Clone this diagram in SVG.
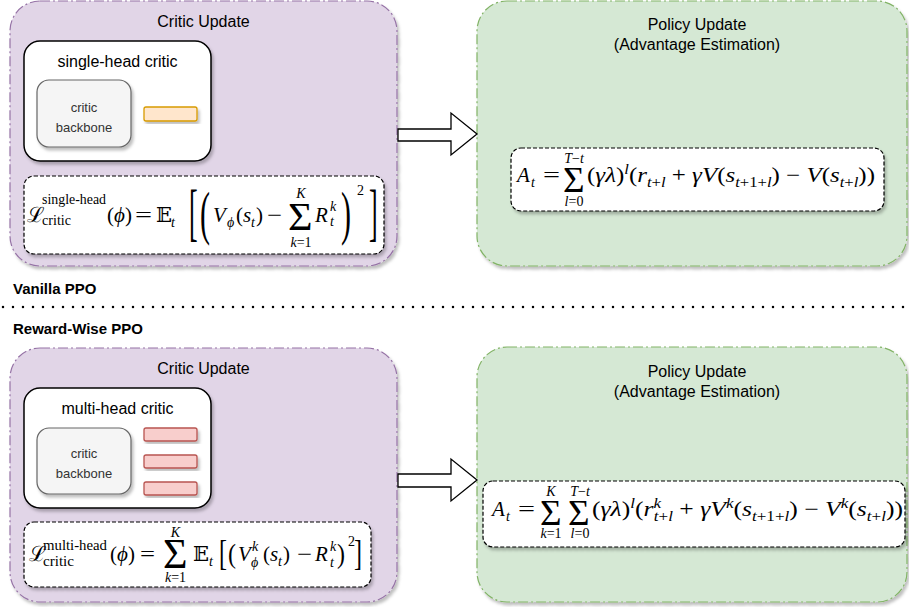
<svg xmlns="http://www.w3.org/2000/svg" width="909" height="607" viewBox="0 0 909 607">
<defs>
<filter id="sh" x="-10%" y="-10%" width="130%" height="130%"><feDropShadow dx="2" dy="3" stdDeviation="1.5" flood-color="#000" flood-opacity="0.25"/></filter>
</defs>
<style>
.purple{fill:#e1d5e7;stroke:#9673a6;stroke-width:1.2;stroke-dasharray:10 3 2 3}
.green{fill:#d5e8d4;stroke:#82b366;stroke-width:1.2;stroke-dasharray:10 3 2 3}
.card{fill:#fff;stroke:#000;stroke-width:1.5}
.bb{fill:#f5f5f5;stroke:#666;stroke-width:1.2}
.h1{fill:#ffe6cc;stroke:#d79b00;stroke-width:1.3}
.h2{fill:#f8cecc;stroke:#b85450;stroke-width:1.3}
.fbox{fill:#fff;stroke:#000;stroke-width:1.2;stroke-dasharray:4 2}
.arrow{fill:#fff;stroke:#000;stroke-width:1.3}
.t{font-family:"Liberation Sans",Arial,sans-serif;fill:#000;font-size:16px;text-anchor:middle}
.sm{font-size:13px;fill:#333}
.lab{font-family:"Liberation Sans",Arial,sans-serif;font-weight:bold;font-size:15px;fill:#000}
.m{font-family:"Liberation Serif","Times New Roman","DejaVu Serif",serif;font-size:21px;fill:#000}
.d{font-size:20px}
.i{font-style:italic}
.s{font-size:14px}
.c{text-anchor:middle}
.sig{font-size:36px}
</style>

<!-- Top: Vanilla PPO -->
<g id="critic-update-top">
<rect class="purple" x="10" y="1" width="387" height="265" rx="30" filter="url(#sh)"/>
<text class="t" x="203.5" y="27">Critic Update</text>
</g>
<g id="single-head-critic">
<rect class="card" x="24" y="41" width="187" height="120" rx="16" filter="url(#sh)"/>
<text class="t" x="117.5" y="67">single-head critic</text>
</g>
<g id="critic-backbone-top">
<rect class="bb" x="37" y="80" width="94" height="67" rx="12" filter="url(#sh)"/>
<text class="t sm" x="84" y="112">critic</text>
<text class="t sm" x="84" y="132">backbone</text>
</g>
<g id="head-top">
<rect class="h1" x="144" y="107" width="53" height="14" rx="2" filter="url(#sh)"/>
</g>
<g id="loss-single">
<rect class="fbox" x="24" y="176" width="360" height="78" rx="10" filter="url(#sh)"/>
<text class="m" x="27" y="222" font-size="23">ℒ</text>
<text class="m s" x="42" y="204" textLength="64" lengthAdjust="spacingAndGlyphs">single-head</text>
<text class="m s" x="42" y="225" textLength="29" lengthAdjust="spacingAndGlyphs">critic</text>
<text class="m" x="107" y="222">(<tspan class="i">ϕ</tspan>)</text>
<text class="m" x="135" y="222" textLength="17" lengthAdjust="spacingAndGlyphs">=</text>
<text class="m" x="156" y="222">𝔼</text>
<text class="m s i" x="171" y="227">t</text>
<text class="m d" transform="translate(189,233.4) scale(1.3,3.2)">[</text>
<text class="m d" transform="translate(200,232.6) scale(1.5,3.0)">(</text>
<text class="m i" x="213" y="222">V</text>
<text class="m s i" x="227" y="227">ϕ</text>
<text class="m" x="236" y="222">(<tspan class="i">s</tspan></text>
<text class="m s i" x="251" y="227">t</text>
<text class="m" x="256" y="222">)</text>
<text class="m" x="267" y="222" textLength="15" lengthAdjust="spacingAndGlyphs">−</text>
<text class="m sig" transform="translate(288,230) scale(1.17,1.13)">Σ</text>
<text class="m s i c" x="301" y="198">K</text>
<text class="m s c" x="301" y="247"><tspan class="i">k</tspan>=1</text>
<text class="m i" x="315" y="222">R</text>
<text class="m s i" x="330" y="211">k</text>
<text class="m s i" x="330" y="226">t</text>
<text class="m d" transform="translate(341,232.6) scale(1.5,3.0)">)</text>
<text class="m s" x="357" y="195">2</text>
<text class="m d" transform="translate(369,233.4) scale(1.3,3.2)">]</text>
</g>

<g id="policy-update-top">
<rect class="green" x="477" y="1" width="430" height="265" rx="30" filter="url(#sh)"/>
<text class="t" x="697" y="30">Policy Update</text>
<text class="t" x="697" y="50">(Advantage Estimation)</text>
</g>
<g id="adv-single">
<rect class="fbox" x="511" y="148" width="373" height="63" rx="10" filter="url(#sh)"/>
<text class="m i" x="517" y="182">A</text>
<text class="m s i" x="531" y="187">t</text>
<text class="m" x="543" y="182" textLength="17" lengthAdjust="spacingAndGlyphs">=</text>
<text class="m sig" transform="translate(563,192) scale(1.03,0.97)">Σ</text>
<text class="m s c" x="574" y="163"><tspan class="i">T</tspan>−<tspan class="i">t</tspan></text>
<text class="m s c" x="574" y="206"><tspan class="i">l</tspan>=0</text>
<text class="m" x="587" y="182" textLength="288" lengthAdjust="spacingAndGlyphs">(<tspan class="i">γλ</tspan>)<tspan class="s i" dy="-8">l</tspan><tspan dy="8">(</tspan><tspan class="i">r</tspan><tspan class="s" dy="5"><tspan class="i">t</tspan>+<tspan class="i">l</tspan></tspan><tspan dy="-5"> + </tspan><tspan class="i">γV</tspan>(<tspan class="i">s</tspan><tspan class="s" dy="5"><tspan class="i">t</tspan>+1+<tspan class="i">l</tspan></tspan><tspan dy="-5">) − </tspan><tspan class="i">V</tspan>(<tspan class="i">s</tspan><tspan class="s" dy="5"><tspan class="i">t</tspan>+<tspan class="i">l</tspan></tspan><tspan dy="-5">))</tspan></text>
</g>

<text class="lab" x="13" y="294">Vanilla PPO</text>
<line x1="3" y1="307" x2="909" y2="307" stroke="#000" stroke-width="2.5" stroke-linecap="round" stroke-dasharray="0 10"/>
<text class="lab" x="13" y="334">Reward-Wise PPO</text>

<!-- Bottom: Reward-Wise PPO -->
<g id="critic-update-bottom">
<rect class="purple" x="10" y="348" width="387" height="254" rx="30" filter="url(#sh)"/>
<text class="t" x="203.5" y="374">Critic Update</text>
</g>
<g id="multi-head-critic">
<rect class="card" x="24" y="388" width="187" height="120" rx="16" filter="url(#sh)"/>
<text class="t" x="117.5" y="414">multi-head critic</text>
</g>
<g id="critic-backbone-bottom">
<rect class="bb" x="37" y="428" width="94" height="66" rx="12" filter="url(#sh)"/>
<text class="t sm" x="84" y="458">critic</text>
<text class="t sm" x="84" y="478">backbone</text>
</g>
<g id="heads-bottom">
<rect class="h2" x="144" y="428" width="53" height="13" rx="2" filter="url(#sh)"/>
<rect class="h2" x="144" y="455" width="53" height="13" rx="2" filter="url(#sh)"/>
<rect class="h2" x="144" y="482" width="53" height="13" rx="2" filter="url(#sh)"/>
</g>
<g id="loss-multi">
<rect class="fbox" x="24" y="522" width="347" height="65" rx="10" filter="url(#sh)"/>
<text class="m" x="29" y="561" font-size="22">ℒ</text>
<text class="m s" x="43" y="550" textLength="64" lengthAdjust="spacingAndGlyphs">multi-head</text>
<text class="m s" x="43" y="566" textLength="31" lengthAdjust="spacingAndGlyphs">critic</text>
<text class="m" x="110" y="561">(<tspan class="i">ϕ</tspan>)</text>
<text class="m" x="140" y="561" textLength="15" lengthAdjust="spacingAndGlyphs">=</text>
<text class="m sig" transform="translate(163,568) scale(1.17,1.17)">Σ</text>
<text class="m s i c" x="175.5" y="537">K</text>
<text class="m s c" x="175.5" y="582"><tspan class="i">k</tspan>=1</text>
<text class="m" x="193" y="561">𝔼</text>
<text class="m s i" x="209" y="566">t</text>
<text class="m d" transform="translate(219,564.7) scale(1.2,1.74)">[</text>
<text class="m d" transform="translate(228,562.5) scale(1.2,1.4)">(</text>
<text class="m i" x="238" y="561">V</text>
<text class="m s i" x="252" y="551">k</text>
<text class="m s i" x="251" y="567">ϕ</text>
<text class="m" x="263" y="561">(<tspan class="i">s</tspan></text>
<text class="m s i" x="278" y="566">t</text>
<text class="m" x="283" y="561">)</text>
<text class="m" x="297" y="561" textLength="15" lengthAdjust="spacingAndGlyphs">−</text>
<text class="m i" x="315" y="561">R</text>
<text class="m s i" x="330" y="551">k</text>
<text class="m s i" x="330" y="567">t</text>
<text class="m d" transform="translate(337,562.5) scale(1.2,1.4)">)</text>
<text class="m s" x="348" y="546">2</text>
<text class="m d" transform="translate(354,564.7) scale(1.2,1.74)">]</text>
</g>

<g id="policy-update-bottom">
<rect class="green" x="477" y="347" width="430" height="255" rx="30" filter="url(#sh)"/>
<text class="t" x="697" y="377">Policy Update</text>
<text class="t" x="697" y="397">(Advantage Estimation)</text>
</g>
<g id="adv-multi">
<rect class="fbox" x="483" y="481" width="422" height="66" rx="10" filter="url(#sh)"/>
<text class="m i" x="492" y="516">A</text>
<text class="m s i" x="506" y="521">t</text>
<text class="m" x="518" y="516" textLength="17" lengthAdjust="spacingAndGlyphs">=</text>
<text class="m sig" transform="translate(540,525) scale(1.03,1.0)">Σ</text>
<text class="m s i c" x="551" y="496">K</text>
<text class="m s c" x="551" y="538"><tspan class="i">k</tspan>=1</text>
<text class="m sig" transform="translate(568,525) scale(1.03,1.0)">Σ</text>
<text class="m s c" x="580" y="496"><tspan class="i">T</tspan>−<tspan class="i">t</tspan></text>
<text class="m s c" x="580" y="538"><tspan class="i">l</tspan>=0</text>
<text class="m" x="592" y="516" textLength="311" lengthAdjust="spacingAndGlyphs">(<tspan class="i">γλ</tspan>)<tspan class="s i" dy="-8">l</tspan><tspan dy="8">(</tspan><tspan class="i">r</tspan><tspan class="s i" dy="-8">k</tspan><tspan class="s" dx="-6" dy="13"><tspan class="i">t</tspan>+<tspan class="i">l</tspan></tspan><tspan dy="-5"> + </tspan><tspan class="i">γV</tspan><tspan class="s i" dy="-8">k</tspan><tspan dy="8">(</tspan><tspan class="i">s</tspan><tspan class="s" dy="5"><tspan class="i">t</tspan>+1+<tspan class="i">l</tspan></tspan><tspan dy="-5">) − </tspan><tspan class="i">V</tspan><tspan class="s i" dy="-8">k</tspan><tspan dy="8">(</tspan><tspan class="i">s</tspan><tspan class="s" dy="5"><tspan class="i">t</tspan>+<tspan class="i">l</tspan></tspan><tspan dy="-5">))</tspan></text>
</g>

<g id="connectors">
<polygon class="arrow" points="398,129 451,129 451,113 477,134 451,155 451,141 398,141"/>
<polygon class="arrow" points="398,474 451,474 451,459 477,480 451,501 451,487 398,487"/>
</g>
</svg>
